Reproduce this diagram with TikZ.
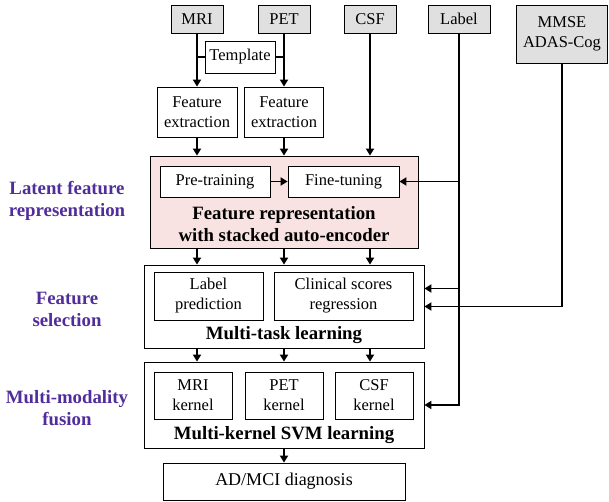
\documentclass[tikz,border=0pt]{standalone}
\usepackage{fontspec}
\setmainfont{Liberation Serif}
\usetikzlibrary{arrows.meta,positioning,calc}

\definecolor{stagecolor}{RGB}{80,45,155}
\definecolor{inputgray}{RGB}{224,224,224}
\definecolor{saepink}{RGB}{249,226,226}

\tikzset{
  input/.style={draw, line width=0.8pt, fill=inputgray, align=center, inner sep=0pt,
    font=\fontsize{16.5}{20}\selectfont},
  box/.style={draw, line width=0.8pt, fill=white, align=center, inner sep=0pt,
    font=\fontsize{16.5}{20}\selectfont},
  stagebox/.style={draw, line width=0.8pt, inner sep=0pt},
  title/.style={align=center, font=\bfseries\fontsize{18.8}{22}\selectfont},
  side/.style={align=center, text=stagecolor, font=\bfseries\fontsize{18.8}{22}\selectfont},
  flow/.style={-{Triangle[width=8pt,length=7pt]}, line width=1.8pt},
  feed/.style={line width=1.8pt},
}

\begin{document}
\begin{tikzpicture}[x=1pt, y=-1pt]
    \useasboundingbox (0,0) rectangle (609,502);

    % Input data
    \node[input, minimum width=52pt, minimum height=28pt] (mri) at (197,19) {MRI};
    \node[input, minimum width=52pt, minimum height=28pt] (pet) at (284,19) {PET};
    \node[input, minimum width=52pt, minimum height=28pt] (csf) at (370,19) {CSF};
    \node[input, minimum width=62pt, minimum height=28pt] (label) at (459,19) {Label};
    \node[input, minimum width=91pt, minimum height=58pt] (mmse) at (562,34) {MMSE\\ADAS-Cog};

    % Template and feature extraction
    \node[box, minimum width=70pt, minimum height=32pt] (template) at (240,57) {Template};
    \node[box, minimum width=80pt, minimum height=50pt] (fe1) at (197,112) {Feature\\extraction};
    \node[box, minimum width=79pt, minimum height=50pt] (fe2) at (284,112) {Feature\\extraction};

    % Stacked auto-encoder
    \node[stagebox, fill=saepink, minimum width=268pt, minimum height=92pt] (sae) at (284,202) {};
    \node[box, minimum width=110pt, minimum height=31pt] (pre) at (215,181.5) {Pre-training};
    \node[box, minimum width=111pt, minimum height=31pt] (fine) at (343.5,181.5) {Fine-tuning};
    \node[title] (saetitle) at (284,224) {Feature representation\\with stacked auto-encoder};

    % Multi-task learning
    \node[stagebox, minimum width=280pt, minimum height=83pt] (mtl) at (284,306.5) {};
    \node[box, minimum width=109pt, minimum height=48pt] (lblpred) at (208.5,296) {Label\\prediction};
    \node[box, minimum width=139pt, minimum height=48pt] (clinreg) at (343.5,296) {Clinical scores\\regression};
    \node[title] (mtltitle) at (284,335) {Multi-task learning};
    \coordinate (mtlin) at ([yshift=18pt]mtl.east);

    % Multi-kernel SVM
    \node[stagebox, minimum width=280pt, minimum height=86pt] (mkl) at (284,405) {};
    \node[box, minimum width=78pt, minimum height=47pt] (mrik) at (193,395.5) {MRI\\kernel};
    \node[box, minimum width=78pt, minimum height=47pt] (petk) at (284,395.5) {PET\\kernel};
    \node[box, minimum width=78pt, minimum height=47pt] (csfk) at (374,395.5) {CSF\\kernel};
    \node[title] (mkltitle) at (284,435) {Multi-kernel SVM learning};

    % Diagnosis
    \node[box, minimum width=242pt, minimum height=37pt,
      font=\fontsize{18}{20}\selectfont] (diag) at (284,481.5) {AD/MCI diagnosis};

    % Stage names
    \node[side] (latent) at (67,201) {Latent feature\\representation};
    \node[side] (select) at (67,309.5) {Feature\\selection};
    \node[side] (fusion) at (67,408.5) {Multi-modality\\fusion};

    % Connectors
    \draw[flow] (mri.south) -- (fe1.north);
    \draw[flow] (pet.south) -- (fe2.north);
    \draw[feed] (template.west) -- (template.west -| mri.south);
    \draw[feed] (template.east) -- (template.east -| pet.south);
    \draw[flow] (fe1.south) -- (fe1.south |- sae.north);
    \draw[flow] (fe2.south) -- (fe2.south |- sae.north);
    \draw[flow] (csf.south) -- (csf.south |- sae.north);
    \draw[flow] (pre.east) -- (fine.west);
    \foreach \src in {fe1,fe2,csf} {
      \draw[flow] (\src.south |- sae.south) -- (\src.south |- mtl.north);
      \draw[flow] (\src.south |- mtl.south) -- (\src.south |- mkl.north);
    }
    \draw[flow] (label.south) |- (mkl.east);
    \draw[flow] (label.south |- fine.east) -- (fine.east);
    \draw[flow] (label.south |- mtlin) -- (mtlin);
    \draw[flow] (mmse.south) |- (mtl.east);
    \draw[flow] (mkl.south) -- (diag.north);
\end{tikzpicture}
\end{document}
